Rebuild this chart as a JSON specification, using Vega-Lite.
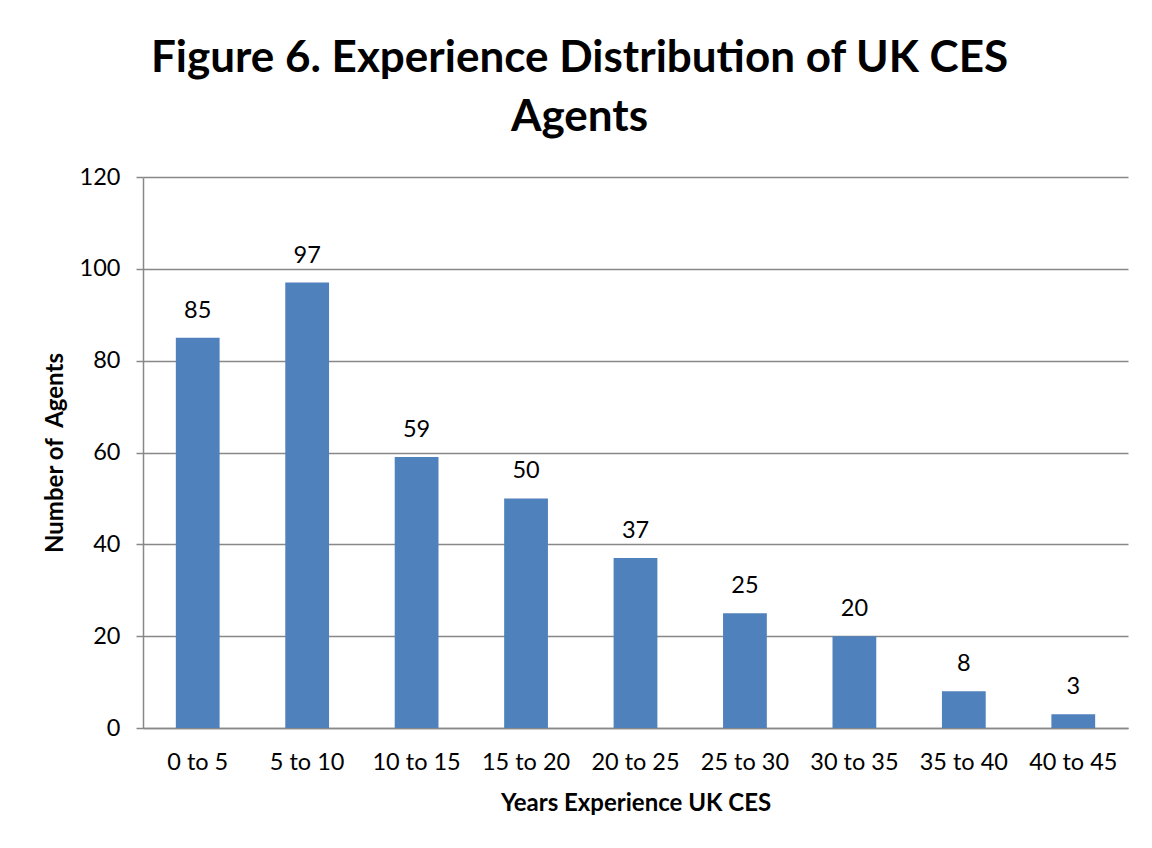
{
  "$schema": "https://vega.github.io/schema/vega-lite/v6.json",
  "width": 985,
  "height": 551,
  "autosize": {"type": "none"},
  "padding": {"left": 143, "top": 177, "right": 24, "bottom": 120},
  "background": "white",
  "title": {
    "text": ["Figure 6. Experience Distribution of UK CES", "Agents"],
    "fontSize": 44,
    "fontWeight": "bold",
    "font": "Lato",
    "color": "black",
    "anchor": "middle",
    "dx": -56,
    "offset": 25,
    "lineHeight": 59
  },
  "data": {
    "values": [
      {"range": "0 to 5", "count": 85},
      {"range": "5 to 10", "count": 97},
      {"range": "10 to 15", "count": 59},
      {"range": "15 to 20", "count": 50},
      {"range": "20 to 25", "count": 37},
      {"range": "25 to 30", "count": 25},
      {"range": "30 to 35", "count": 20},
      {"range": "35 to 40", "count": 8},
      {"range": "40 to 45", "count": 3}
    ]
  },
  "encoding": {
    "x": {
      "field": "range",
      "type": "nominal",
      "sort": null,
      "scale": {"paddingInner": 0.6, "paddingOuter": 0.3},
      "axis": {
        "title": "Years Experience UK CES",
        "labelAngle": 0,
        "ticks": false,
        "labelPadding": 22,
        "titlePadding": 18,
        "domainColor": "#888888",
        "domainWidth": 1.5
      }
    },
    "y": {
      "field": "count",
      "type": "quantitative",
      "scale": {"domain": [0, 120]},
      "axis": {
        "title": "Number of\u00a0 Agents",
        "values": [0, 20, 40, 60, 80, 100, 120],
        "tickSize": 7,
        "tickColor": "#888888",
        "tickWidth": 1.5,
        "labelPadding": 16,
        "titlePadding": 12,
        "domainColor": "#888888",
        "domainWidth": 1.5,
        "grid": true,
        "gridColor": "#888888",
        "gridWidth": 1.5
      }
    }
  },
  "layer": [
    {"mark": {"type": "bar", "color": "#4F81BD"}},
    {
      "mark": {"type": "text", "baseline": "alphabetic", "dy": -20, "fontSize": 23.5, "font": "Lato", "color": "black"},
      "encoding": {"text": {"field": "count", "type": "quantitative"}}
    }
  ],
  "config": {
    "view": {"stroke": null},
    "axis": {
      "labelFont": "Lato",
      "labelFontSize": 23.5,
      "labelColor": "black",
      "titleFont": "Lato",
      "titleFontSize": 24,
      "titleFontWeight": "bold",
      "titleColor": "black"
    }
  }
}
